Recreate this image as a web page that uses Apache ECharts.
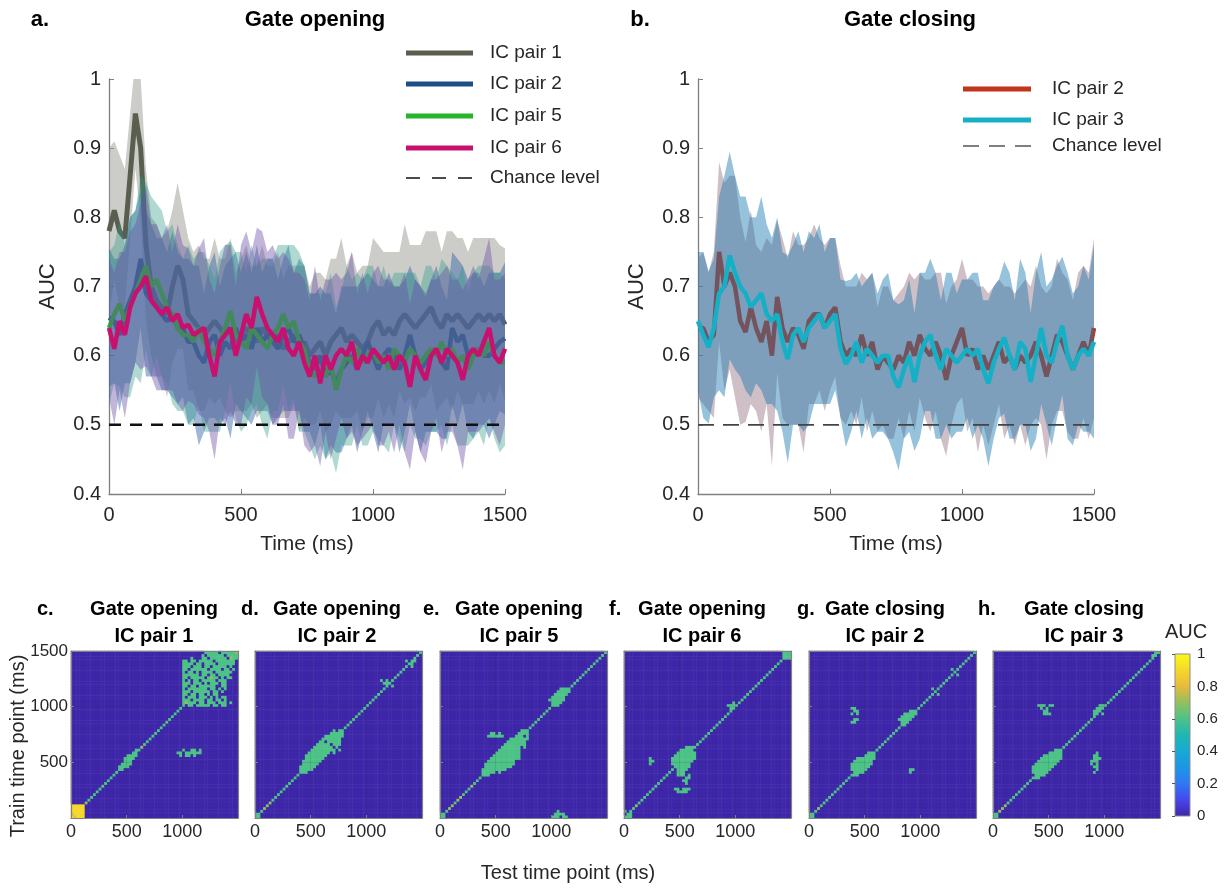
<!DOCTYPE html>
<html>
<head>
<meta charset="utf-8">
<script src="https://cdn.jsdelivr.net/npm/echarts@6/dist/echarts.min.js"></script>
<style>html,body{margin:0;padding:0;background:#fff}#chart{width:1228px;height:888px}</style>
</head>
<body>
<div id="chart"></div>
<script>
// ---------------- DATA ----------------
const timeStepMs = 20;           // sampling of the AUC time courses (0..1500 ms)
const chanceLevel = 0.5;
const timeTicks = [0, 500, 1000, 1500];

// Panel a: Gate opening (mean AUC and shaded half-width)
const aucOpenPair1 = [
 0.78,0.81,0.78,0.77,0.86,0.95,0.90,0.76,0.70,0.68,
 0.67,0.66,0.70,0.73,0.71,0.66,0.65,0.64,0.63,0.64,
 0.65,0.64,0.63,0.64,0.62,0.63,0.64,0.63,0.62,0.64,
 0.63,0.62,0.63,0.61,0.62,0.63,0.61,0.62,0.60,0.61,
 0.62,0.60,0.62,0.63,0.64,0.62,0.63,0.62,0.61,0.62,
 0.64,0.65,0.63,0.64,0.63,0.65,0.66,0.65,0.64,0.65,
 0.66,0.67,0.65,0.64,0.66,0.65,0.66,0.65,0.64,0.65,
 0.66,0.65,0.66,0.65,0.66,0.645];
const aucOpenPair2 = [
 0.655,0.65,0.63,0.66,0.68,0.70,0.74,0.69,0.68,0.67,
 0.66,0.65,0.66,0.64,0.64,0.62,0.62,0.60,0.59,0.62,
 0.63,0.60,0.62,0.61,0.64,0.62,0.63,0.61,0.64,0.62,
 0.63,0.62,0.61,0.63,0.64,0.62,0.63,0.61,0.59,0.58,
 0.60,0.57,0.58,0.56,0.58,0.59,0.60,0.58,0.60,0.62,
 0.60,0.58,0.60,0.61,0.60,0.58,0.60,0.63,0.60,0.58,
 0.59,0.60,0.61,0.59,0.58,0.64,0.62,0.63,0.60,0.60,
 0.61,0.60,0.60,0.61,0.62,0.625];
const aucOpenPair5 = [
 0.64,0.66,0.675,0.65,0.67,0.69,0.71,0.73,0.70,0.71,
 0.69,0.67,0.66,0.64,0.63,0.63,0.62,0.64,0.62,0.61,
 0.60,0.62,0.64,0.665,0.63,0.62,0.61,0.64,0.63,0.62,
 0.61,0.63,0.64,0.66,0.64,0.65,0.62,0.61,0.58,0.57,
 0.58,0.57,0.59,0.55,0.58,0.60,0.59,0.61,0.59,0.60,
 0.61,0.59,0.60,0.58,0.61,0.60,0.59,0.61,0.60,0.59,
 0.60,0.61,0.60,0.62,0.60,0.61,0.59,0.60,0.58,0.60,
 0.61,0.60,0.62,0.60,0.59,0.59];
const aucOpenPair6 = [
 0.64,0.61,0.65,0.63,0.67,0.69,0.70,0.715,0.68,0.67,
 0.66,0.67,0.65,0.66,0.64,0.645,0.63,0.635,0.64,0.60,
 0.57,0.62,0.63,0.64,0.60,0.63,0.66,0.64,0.685,0.66,
 0.64,0.63,0.62,0.64,0.61,0.60,0.62,0.59,0.57,0.60,
 0.56,0.60,0.58,0.60,0.61,0.60,0.62,0.58,0.60,0.59,
 0.61,0.60,0.59,0.60,0.58,0.60,0.59,0.555,0.60,0.58,
 0.565,0.60,0.61,0.59,0.61,0.60,0.59,0.565,0.60,0.61,
 0.60,0.62,0.64,0.60,0.59,0.61];
const semOpenPair1 = [
 0.12,0.10,0.11,0.10,0.09,0.08,0.10,0.11,0.10,0.11,
 0.10,0.12,0.11,0.12,0.10,0.11,0.10,0.12,0.11,0.10,
 0.12,0.10,0.11,0.13,0.10,0.11,0.12,0.10,0.11,0.12,
 0.10,0.11,0.12,0.10,0.11,0.10,0.12,0.11,0.10,0.11,
 0.10,0.11,0.12,0.11,0.13,0.11,0.12,0.10,0.12,0.11,
 0.13,0.11,0.12,0.11,0.12,0.10,0.13,0.11,0.12,0.11,
 0.12,0.11,0.13,0.11,0.12,0.13,0.11,0.12,0.11,0.12,
 0.11,0.12,0.11,0.12,0.10,0.11];
const semOpenPair2 = [
 0.10,0.09,0.11,0.10,0.12,0.11,0.10,0.12,0.11,0.10,
 0.11,0.10,0.12,0.11,0.10,0.12,0.11,0.13,0.10,0.11,
 0.12,0.10,0.11,0.13,0.11,0.10,0.12,0.11,0.12,0.10,
 0.11,0.12,0.10,0.11,0.12,0.10,0.11,0.12,0.10,0.11,
 0.10,0.12,0.11,0.10,0.12,0.11,0.10,0.12,0.11,0.10,
 0.11,0.12,0.10,0.11,0.10,0.12,0.11,0.10,0.11,0.12,
 0.10,0.11,0.12,0.11,0.10,0.11,0.12,0.10,0.11,0.12,
 0.11,0.10,0.12,0.11,0.10,0.11];
const semOpenPair5 = [
 0.11,0.10,0.12,0.11,0.13,0.12,0.15,0.12,0.13,0.11,
 0.12,0.11,0.13,0.12,0.11,0.13,0.12,0.11,0.13,0.12,
 0.11,0.13,0.12,0.10,0.12,0.13,0.11,0.12,0.10,0.12,
 0.13,0.11,0.12,0.10,0.12,0.11,0.13,0.12,0.11,0.12,
 0.11,0.12,0.13,0.12,0.11,0.13,0.12,0.11,0.12,0.13,
 0.12,0.11,0.13,0.12,0.11,0.12,0.13,0.11,0.12,0.11,
 0.13,0.12,0.11,0.12,0.13,0.11,0.12,0.13,0.11,0.12,
 0.12,0.13,0.11,0.12,0.13,0.12];
const semOpenPair6 = [
 0.10,0.11,0.10,0.12,0.11,0.10,0.12,0.13,0.11,0.12,
 0.11,0.12,0.10,0.13,0.12,0.11,0.10,0.12,0.13,0.11,
 0.12,0.11,0.13,0.12,0.10,0.13,0.12,0.11,0.10,0.12,
 0.11,0.13,0.12,0.11,0.13,0.12,0.10,0.12,0.11,0.13,
 0.12,0.11,0.13,0.12,0.10,0.12,0.13,0.11,0.12,0.10,
 0.11,0.13,0.12,0.11,0.12,0.10,0.13,0.12,0.11,0.12,
 0.12,0.11,0.10,0.13,0.12,0.11,0.12,0.13,0.11,0.12,
 0.11,0.12,0.13,0.11,0.12,0.11];

// Panel b: Gate closing
const aucClosePair2 = [
 0.64,0.64,0.62,0.63,0.75,0.70,0.72,0.70,0.65,0.634,
 0.67,0.64,0.62,0.65,0.60,0.685,0.64,0.62,0.64,0.63,
 0.61,0.65,0.66,0.66,0.64,0.66,0.67,0.62,0.60,0.61,
 0.60,0.63,0.60,0.62,0.58,0.60,0.59,0.58,0.60,0.59,
 0.62,0.60,0.63,0.61,0.60,0.62,0.60,0.565,0.60,0.62,
 0.64,0.60,0.61,0.58,0.60,0.58,0.60,0.62,0.59,0.60,
 0.58,0.60,0.59,0.60,0.62,0.60,0.57,0.60,0.63,0.62,
 0.60,0.58,0.60,0.62,0.60,0.64];
const aucClosePair3 = [
 0.65,0.63,0.612,0.64,0.69,0.70,0.745,0.72,0.70,0.69,
 0.67,0.68,0.69,0.66,0.65,0.66,0.62,0.595,0.63,0.64,
 0.62,0.64,0.65,0.66,0.64,0.65,0.66,0.61,0.588,0.60,
 0.62,0.59,0.61,0.60,0.59,0.60,0.60,0.57,0.554,0.58,
 0.60,0.562,0.60,0.62,0.63,0.60,0.58,0.61,0.60,0.59,
 0.60,0.61,0.60,0.61,0.58,0.56,0.59,0.61,0.626,0.60,
 0.58,0.62,0.61,0.562,0.60,0.64,0.60,0.59,0.62,0.643,
 0.60,0.58,0.60,0.61,0.60,0.62];
const semClosePair2 = [
 0.10,0.11,0.10,0.12,0.13,0.15,0.14,0.16,0.15,0.13,
 0.14,0.12,0.13,0.12,0.16,0.11,0.13,0.12,0.14,0.13,
 0.15,0.12,0.13,0.11,0.12,0.11,0.10,0.11,0.10,0.09,
 0.10,0.09,0.11,0.10,0.09,0.10,0.11,0.10,0.09,0.11,
 0.10,0.11,0.09,0.10,0.11,0.10,0.12,0.11,0.10,0.09,
 0.10,0.11,0.10,0.12,0.10,0.11,0.10,0.09,0.11,0.10,
 0.11,0.10,0.12,0.10,0.11,0.10,0.12,0.10,0.11,0.10,
 0.11,0.10,0.12,0.11,0.12,0.13];
const semClosePair3 = [
 0.10,0.12,0.11,0.10,0.14,0.16,0.15,0.14,0.13,0.14,
 0.13,0.12,0.14,0.13,0.12,0.14,0.13,0.15,0.13,0.14,
 0.13,0.14,0.12,0.13,0.11,0.12,0.11,0.10,0.12,0.11,
 0.10,0.11,0.10,0.12,0.10,0.11,0.12,0.11,0.12,0.10,
 0.11,0.10,0.12,0.10,0.11,0.12,0.10,0.11,0.12,0.10,
 0.11,0.10,0.12,0.11,0.10,0.12,0.11,0.10,0.11,0.12,
 0.10,0.12,0.11,0.10,0.12,0.11,0.10,0.12,0.11,0.10,
 0.12,0.11,0.10,0.12,0.11,0.14];

const legendOpen = ['IC pair 1', 'IC pair 2', 'IC pair 5', 'IC pair 6', 'Chance level'];
const legendClose = ['IC pair 2', 'IC pair 3', 'Chance level'];

// Temporal generalisation matrices (c-h): 60 x 60 cells of 25 ms.
// Diagonal value codes (digit/10), then off-diagonal clusters:
// [first test-cell, top train-cell, rows of digit codes ('.' = 0)]
const cellMs = 25;
const cellCount = 60;
const heatmapLetters = ['c.', 'd.', 'e.', 'f.', 'g.', 'h.'];
const heatmapTitle1 = ['Gate opening', 'Gate opening', 'Gate opening', 'Gate opening', 'Gate closing', 'Gate closing'];
const heatmapTitle2 = ['IC pair 1', 'IC pair 2', 'IC pair 5', 'IC pair 6', 'IC pair 2', 'IC pair 3'];

const diagC = "9999976666 6666666666 6666676666 6666666666 6766666666 7666666767";
const diagD = "6667776666 6666666666 6666666666 6666666666 6666666666 6666666666";
const diagE = "6667767766 6766666666 6666666666 6666666666 6666666666 6666666666";
const diagF = "6666766666 6666666666 6666666666 6666666666 6666666666 6666666666";
const diagG = "6667666666 6666666666 6666666666 6666666666 6666666666 6666666666";
const diagH = "6677766666 6666666666 6666666666 6666666666 6666666666 6666666666";

const blobsC = [
 [0, 4, ["99999", "99999", "99999", "89999", "88999"]],
 [17, 24, ["......6.", ".....66.", "...6666.", "..6666..", "..666...", ".6666...", "6.66....", "66......"]],
 [38, 24, ["..6..66.6.", "66.666666.", ".6.66.6..."]],
 [40, 59, [
  "........66666.666666",
  ".......6.666666.6666",
  "...6...66.666666.666",
  "66.66.66666.6666666.",
  "6666.66.6666.666666.",
  "666.666.66.66666.6..",
  "66.666666.6666.66.6.",
  "6.66.6.6666.666666..",
  "666666.66.66.6666...",
  "66.66666.6666.6.66..",
  "6.6.66.66666.666....",
  "666.666.6.666.66....",
  "66.66.666666..66....",
  "6.6666.66.66.6.6....",
  "666.6.6666.66.6.....",
  "66.66.66.6.66.......",
  "6.666.666.6.6.66....",
  "666.6666.66.66.6....",
  "66666.66.666.666.6..",
  "6.66.66666.66.66...."]]
];
const blobsD = [
 [0, 1, ["66", "66"]],
 [16, 31, [
  "............6.66", "...........66666", ".........6666.66", "........6666666.",
  ".......66.66666.", "......66666.666.", ".....6666666.6..", "....666666666.6.",
  "...66666666.6...", "..66666666......", "..6666666.......", ".6666666........",
  ".666666.........", "666666..........", "66666...........", "666............."]],
 [45, 49, ["6.6..", ".666.", "..6.6"]],
 [53, 56, [".6..6", "..66.", ".6.6."]]
];
const blobsE = [
 [0, 1, ["66", "66"]],
 [15, 31, [
  "..............666", ".............6666", "............666.6", "..........6666666",
  ".........6666666.", "........66666666.", ".......6666666.6.", "......66666666...",
  ".....666666666...", "....6666666666...", "...66666666666...", "..6666666666.....",
  ".66666666666.....", ".6666666666......", "666666666........", "66666.6..........",
  "666.............."]],
 [17, 30, [".66.6.", "666666"]],
 [39, 46, ["....666.", "...66666", "..66666.", ".66666..", "666666..", ".6666...", "..66...."]],
 [40, 2, ["..6...", ".6666.", "666.66"]]
];
const blobsF = [
 [0, 2, ["6.6", ".66", "666"]],
 [17, 25, [".....666.", "...66666.", "..6666666", ".66666666", "666666666",
           "66666666.", "6666666..", ".666666..", "..6666...", "..666....", "..66....."]],
 [9, 21, ["6", "66", "6"]],
 [21, 15, ["6.6", ".66", "66.", ".6."]],
 [18, 10, ["66.666", ".6666."]],
 [37, 41, ["..6", "666", ".6."]],
 [57, 59, ["666", "6.6", "666"]]
];
const blobsG = [
 [0, 1, ["66", "66"]],
 [15, 23, ["......666", ".....6666", "..6666666", ".6666666.", "66666666.",
           "6666666..", "666666...", ".6666....", "666......"]],
 [32, 38, ["....666", "..66666", ".66666.", "66666..", ".666...", "..6...."]],
 [15, 39, ["66.", ".66", "6.6"]],
 [15, 35, [".66", "66."]],
 [36, 17, ["66", "6."]],
 [44, 46, ["6.6", ".6.", "6.6"]],
 [51, 53, ["6.6", ".6.", "6.6"]]
];
const blobsH = [
 [0, 1, ["66", "66"]],
 [14, 24, ["........666", "......66666", "....6666666", "...66666666", "..66666666.",
           ".66666666..", "66666666...", "6666666....", "666666.....", ".6666......", "666........"]],
 [16, 40, ["666.66", ".6.6..", "..66..", "..666."]],
 [35, 23, ["..6.", ".66.", ".666", "666.", "6.6.", ".66.", "..6.", ".6.."]],
 [36, 40, ["..666", ".666.", "666..", "66.6."]],
 [57, 59, [".66", "66.", "6.."]]
];
const heatmapDiags = [diagC, diagD, diagE, diagF, diagG, diagH];
const heatmapBlobs = [blobsC, blobsD, blobsE, blobsF, blobsG, blobsH];

// ---------------- STYLE / LAYOUT ----------------
const FONT = '"Liberation Sans", Arial, Helvetica, sans-serif';
const AXIS_GRAY = '#808080';
const TXT = '#262626';
const parula = ['#3E26A8','#4746EB','#2F78F5','#1C96E4','#18A8D6','#1DB8B1','#4DC287','#93C05C','#E9BA3C','#F5D82A','#F9FB15'];

const openStyles = [
  {line: '#5a5e4e', band: '#9a9c92', bandOp: 0.5},
  {line: '#1d4f86', band: '#2f5fa6', bandOp: 0.45},
  {line: '#25b42a', band: '#2e9c86', bandOp: 0.38},
  {line: '#c8106e', band: '#6c4fa8', bandOp: 0.42}
];
const closeStyles = [
  {line: '#c0351b', band: '#a08090', bandOp: 0.5},
  {line: '#16b0c6', band: '#1878b0', bandOp: 0.45}
];
const noComma = v => String(v);

const toXY = arr => arr.map((v, i) => [i * timeStepMs, v]);

function bandSeries(axisIdx, mean, hw, color, op, z) {
  return {
    type: 'custom', xAxisIndex: axisIdx, yAxisIndex: axisIdx, clip: true, silent: true, z: z,
    data: [[0, mean[0]]],
    renderItem: function (params, api) {
      const up = [], lo = [];
      for (let i = 0; i < mean.length; i++) {
        up.push(api.coord([i * timeStepMs, mean[i] + hw[i]]));
        lo.push(api.coord([i * timeStepMs, mean[i] - hw[i]]));
      }
      return {type: 'polygon', shape: {points: up.concat(lo.reverse())}, style: {fill: color, opacity: op}};
    }
  };
}
function lineSeries(axisIdx, mean, color, width, z) {
  return {type: 'line', xAxisIndex: axisIdx, yAxisIndex: axisIdx, data: toXY(mean), showSymbol: false, symbol: 'none',
    lineStyle: {color: color, width: width}, itemStyle: {color: color}, z: z, silent: true, clip: true};
}
function chanceSeries(axisIdx, color, width, dash) {
  return {type: 'line', xAxisIndex: axisIdx, yAxisIndex: axisIdx, data: [[timeTicks[0], chanceLevel], [timeTicks[timeTicks.length - 1], chanceLevel]],
    symbol: 'none', lineStyle: {color: color, width: width, type: dash}, z: 30, silent: true};
}

function buildMatrix(diagStr, blobs) {
  const m = [];
  for (let r = 0; r < cellCount; r++) m.push(new Array(cellCount).fill(0));
  const d = diagStr.replace(/\s/g, '');
  for (let i = 0; i < cellCount; i++) if (d[i] && d[i] !== '.') m[i][i] = +d[i] / 10;
  blobs.forEach(([c0, rTop, rows]) => rows.forEach((row, k) => {
    for (let j = 0; j < row.length; j++) {
      const ch = row[j];
      if (ch === '.') continue;
      const r = rTop - k, c = c0 + j;
      if (r >= 0 && r < cellCount && c >= 0 && c < cellCount) m[r][c] = Math.max(m[r][c], +ch / 10);
    }
  }));
  const data = [];
  for (let r = 0; r < cellCount; r++) for (let c = 0; c < cellCount; c++) data.push([c, r, m[r][c]]);
  return data;
}

// ---------------- OPTION ----------------
const grids = [
  {left: 109, top: 79, width: 396, height: 415},
  {left: 698, top: 79, width: 396, height: 415}
];
const hmLefts = [71, 255, 440, 624, 809, 993];
hmLefts.forEach(l => grids.push({left: l, top: 651, width: 167, height: 167}));
const cbGradient = new echarts.graphic.LinearGradient(0, 1, 0, 0,
  parula.map((c, i) => ({offset: i / (parula.length - 1), color: c})));
grids.push({left: 1175, top: 654, width: 15, height: 162, show: true, backgroundColor: cbGradient, borderColor: '#8c8c8c', borderWidth: 1});

const xAxes = [], yAxes = [];
[0, 1].forEach(gi => {
  xAxes.push({type: 'value', gridIndex: gi, min: timeTicks[0], max: timeTicks[3], interval: 500, position: 'bottom',
    axisLine: {show: true, lineStyle: {color: AXIS_GRAY, width: 1.3}},
    axisTick: {show: true, inside: true, length: 5, lineStyle: {color: AXIS_GRAY}},
    axisLabel: {color: TXT, fontSize: 20, fontFamily: FONT, margin: 11, formatter: noComma},
    splitLine: {show: false},
    name: 'Time (ms)', nameLocation: 'middle', nameGap: 40,
    nameTextStyle: {color: TXT, fontSize: 21, fontFamily: FONT}});
  yAxes.push({type: 'value', gridIndex: gi, min: 0.4, max: 1, interval: 0.1, position: 'left',
    axisLine: {show: true, lineStyle: {color: AXIS_GRAY, width: 1.3}},
    axisTick: {show: true, inside: true, length: 5, lineStyle: {color: AXIS_GRAY}},
    axisLabel: {color: TXT, fontSize: 20, fontFamily: FONT, margin: 8},
    splitLine: {show: false},
    name: 'AUC', nameLocation: 'middle', nameGap: 50,
    nameTextStyle: {color: TXT, fontSize: 22, fontFamily: FONT}});
});

const cellCats = [];
for (let i = 0; i < cellCount; i++) cellCats.push(String(i * cellMs));
const hmCatX = [], hmCatY = [];
hmLefts.forEach((l, k) => {
  const gi = 2 + k;
  hmCatX.push(xAxes.length);
  xAxes.push({type: 'category', gridIndex: gi, data: cellCats, show: false, boundaryGap: true});
  xAxes.push({type: 'value', gridIndex: gi, min: 0, max: 1500, interval: 500, position: 'bottom', z: 10,
    axisLine: {show: true, lineStyle: {color: AXIS_GRAY, width: 1.2}},
    axisTick: {show: true, inside: true, length: 3, lineStyle: {color: AXIS_GRAY}},
    axisLabel: {color: TXT, fontSize: 18, fontFamily: FONT, margin: 5, showMaxLabel: false, formatter: noComma},
    splitLine: {show: true, lineStyle: {color: 'rgba(0,0,0,0.10)', width: 1}}});
  xAxes.push({type: 'value', gridIndex: gi, min: 0, max: 1500, position: 'top', z: 10,
    axisLine: {show: true, lineStyle: {color: AXIS_GRAY, width: 1.2}},
    axisTick: {show: false}, axisLabel: {show: false}, splitLine: {show: false}});
  hmCatY.push(yAxes.length);
  yAxes.push({type: 'category', gridIndex: gi, data: cellCats, show: false, boundaryGap: true});
  yAxes.push({type: 'value', gridIndex: gi, min: 0, max: 1500, interval: 500, position: 'left', z: 10,
    axisLine: {show: true, lineStyle: {color: AXIS_GRAY, width: 1.2}},
    axisTick: {show: true, inside: true, length: 3, lineStyle: {color: AXIS_GRAY}},
    axisLabel: {show: k === 0, color: TXT, fontSize: 17, fontFamily: FONT, margin: 3, showMinLabel: false, formatter: noComma},
    splitLine: {show: true, lineStyle: {color: 'rgba(0,0,0,0.10)', width: 1}}});
  yAxes.push({type: 'value', gridIndex: gi, min: 0, max: 1500, position: 'right', z: 10,
    axisLine: {show: true, lineStyle: {color: AXIS_GRAY, width: 1.2}},
    axisTick: {show: false}, axisLabel: {show: false}, splitLine: {show: false}});
});
// colorbar axes
xAxes.push({type: 'value', gridIndex: 8, min: 0, max: 1, show: false});
yAxes.push({type: 'value', gridIndex: 8, min: 0, max: 1, interval: 0.2, position: 'right',
  axisLine: {show: false},
  axisTick: {show: true, inside: true, length: 3, lineStyle: {color: '#555'}},
  axisLabel: {color: TXT, fontSize: 15, fontFamily: FONT, margin: 7},
  splitLine: {show: false}});

const series = [];
const openMeans = [aucOpenPair1, aucOpenPair2, aucOpenPair5, aucOpenPair6];
const openSems = [semOpenPair1, semOpenPair2, semOpenPair5, semOpenPair6];
openMeans.forEach((m, i) => {
  series.push(bandSeries(0, m, openSems[i], openStyles[i].band, openStyles[i].bandOp, 2 + 2 * i));
  series.push(lineSeries(0, m, openStyles[i].line, i === 0 ? 5 : 4.5, 3 + 2 * i));
});
series.push(chanceSeries(0, '#111', 2.5, [12, 9]));
const closeMeans = [aucClosePair2, aucClosePair3];
const closeSems = [semClosePair2, semClosePair3];
closeMeans.forEach((m, i) => {
  series.push(bandSeries(1, m, closeSems[i], closeStyles[i].band, closeStyles[i].bandOp, 2 + 2 * i));
  series.push(lineSeries(1, m, closeStyles[i].line, 4.5, 3 + 2 * i));
});
series.push(chanceSeries(1, '#444', 1.6, [16, 9]));

const heatIdx = [];
heatmapDiags.forEach((d, k) => {
  heatIdx.push(series.length);
  series.push({type: 'heatmap', xAxisIndex: hmCatX[k], yAxisIndex: hmCatY[k], data: buildMatrix(d, heatmapBlobs[k]),
    progressive: 0, silent: true, z: 2, itemStyle: {borderWidth: 0}});
});

// text / legend graphics
const graphics = [];
function txt(x, y, text, font, opts) {
  return Object.assign({type: 'text', x: x, y: y, silent: true,
    style: {text: text, font: font, fill: (opts && opts.fill) || '#000', align: (opts && opts.align) || 'center', verticalAlign: 'middle'}},
    opts && opts.rotation ? {rotation: opts.rotation} : {});
}
const BOLD22 = 'bold 22px ' + FONT, BOLD20 = 'bold 20px ' + FONT;
graphics.push(txt(40, 20, 'a.', BOLD22));
graphics.push(txt(315, 20, 'Gate opening', BOLD22));
graphics.push(txt(640, 20, 'b.', BOLD22));
graphics.push(txt(910, 20, 'Gate closing', BOLD22));

const legOpenY = [53, 84, 116, 148, 178];
legendOpen.forEach((name, i) => {
  const dashed = i === legendOpen.length - 1;
  graphics.push({type: 'line', silent: true, shape: {x1: 406, y1: legOpenY[i], x2: 473, y2: legOpenY[i]},
    style: {stroke: dashed ? '#111' : openStyles[i].line, lineWidth: dashed ? 1.5 : 5, lineDash: dashed ? [14, 12] : null}});
  graphics.push(txt(490, legOpenY[i], name, '19px ' + FONT, {align: 'left', fill: TXT}));
});
const legCloseY = [89, 120, 146];
legendClose.forEach((name, i) => {
  const dashed = i === legendClose.length - 1;
  graphics.push({type: 'line', silent: true, shape: {x1: 963, y1: legCloseY[i], x2: 1031, y2: legCloseY[i]},
    style: {stroke: dashed ? '#555' : closeStyles[i].line, lineWidth: dashed ? 1.3 : 5, lineDash: dashed ? [16, 10] : null}});
  graphics.push(txt(1052, legCloseY[i], name, '19px ' + FONT, {align: 'left', fill: TXT}));
});

const letterX = [37, 241, 423, 609, 797, 978];
const titleX = [154, 337, 519, 702, 885, 1084];
heatmapLetters.forEach((l, k) => {
  graphics.push(txt(letterX[k], 609, l, BOLD20, {align: 'left'}));
  graphics.push(txt(titleX[k], 609, heatmapTitle1[k], BOLD20));
  graphics.push(txt(titleX[k], 636, heatmapTitle2[k], BOLD20));
});
graphics.push(txt(568, 873, 'Test time point (ms)', '20px ' + FONT, {fill: TXT}));
graphics.push(txt(18, 746, 'Train time point (ms)', '20px ' + FONT, {fill: TXT, rotation: Math.PI / 2}));
graphics.push(txt(1186, 632, 'AUC', '20px ' + FONT, {fill: TXT}));

const chart = echarts.init(document.getElementById('chart'), null, {renderer: 'canvas'});
chart.setOption({
  backgroundColor: '#ffffff',
  animation: false,
  grid: grids,
  xAxis: xAxes,
  yAxis: yAxes,
  visualMap: {type: 'continuous', min: 0, max: 1, show: false, seriesIndex: heatIdx, dimension: 2,
    inRange: {color: parula}},
  series: series,
  graphic: graphics
});
</script>
</body>
</html>
